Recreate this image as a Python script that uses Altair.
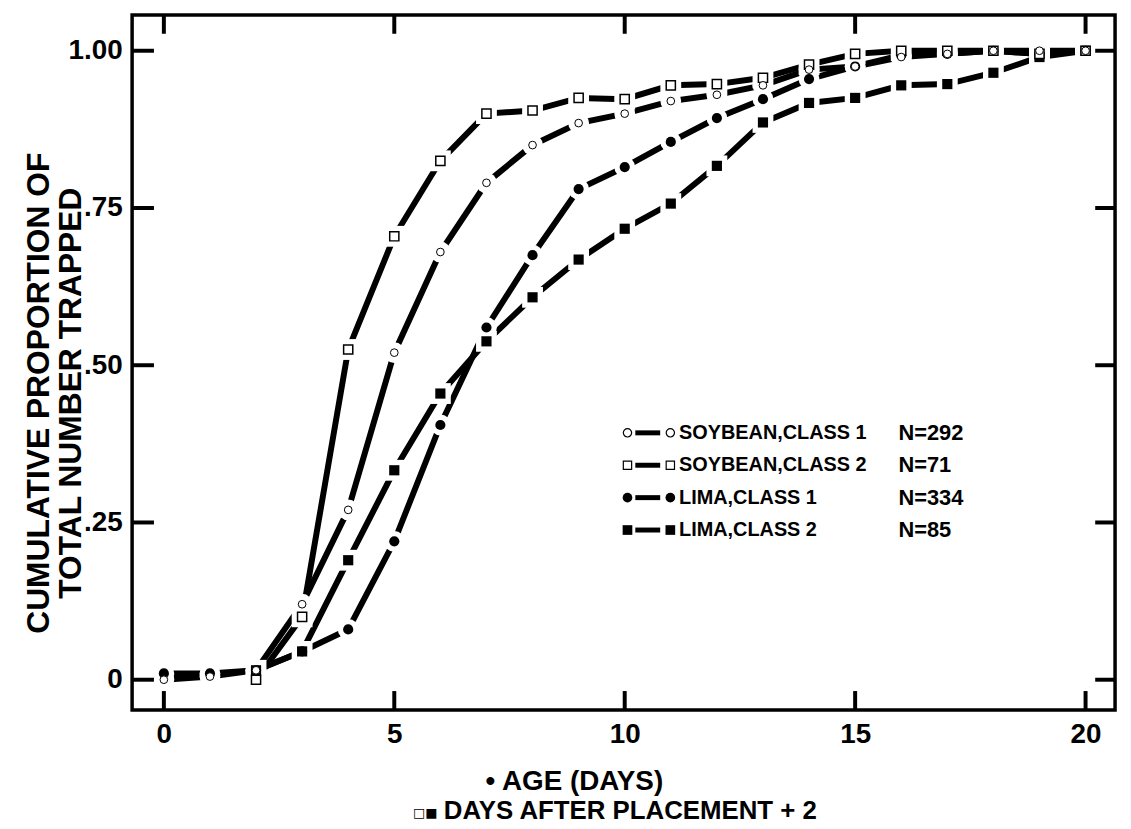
import altair as alt
import pandas as pd

# ---------------- data ----------------
days_age = list(range(0, 21))          # age in days (class 1)
days_place = list(range(2, 21))        # days after placement + 2 (class 2)

soy1 = [0.0, 0.005, 0.015, 0.12, 0.27, 0.52, 0.68, 0.79, 0.85, 0.885, 0.90,
        0.92, 0.93, 0.945, 0.97, 0.975, 0.99, 0.995, 1.0, 1.0, 1.0]
soy2 = [0.0, 0.10, 0.525, 0.705, 0.825, 0.90, 0.905, 0.925, 0.923, 0.945,
        0.947, 0.957, 0.978, 0.995, 1.0, 1.0, 1.0, 0.995, 1.0]
lima1 = [0.01, 0.01, 0.015, 0.045, 0.08, 0.22, 0.405, 0.56, 0.675, 0.78, 0.815,
         0.855, 0.893, 0.923, 0.955, 0.975, 0.993, 0.995, 1.0, 0.995, 1.0]
lima2 = [0.015, 0.045, 0.19, 0.333, 0.455, 0.538, 0.608, 0.668, 0.717, 0.757,
         0.817, 0.886, 0.917, 0.925, 0.945, 0.947, 0.965, 0.99, 1.0]

series_names = ["SOYBEAN,CLASS 1", "SOYBEAN,CLASS 2", "LIMA,CLASS 1", "LIMA,CLASS 2"]
series_n = ["N=292", "N=71", "N=334", "N=85"]
series_shape = ["circle", "square", "circle", "square"]
series_filled = [False, False, True, True]

x_ticks = [0, 5, 10, 15, 20]
y_ticks = [0, 0.25, 0.5, 0.75, 1.0]

y_title = ["CUMULATIVE PROPORTION OF", "TOTAL NUMBER TRAPPED"]
x_title_1 = "\u2022 AGE (DAYS)"
x_title_2 = "DAYS AFTER PLACEMENT + 2"
x_title_2_sym = "\u25a1\u25a0"

# ---------------- tables ----------------
rows = []
for name, days, vals, shp, fil in zip(series_names, [days_age, days_place, days_age, days_place],
                                      [soy1, soy2, lima1, lima2], series_shape, series_filled):
    for d, v in zip(days, vals):
        rows.append({"series": name, "day": d, "prop": v, "shape": shp, "filled": fil})
df = pd.DataFrame(rows)

leg_df = pd.DataFrame({"series": series_names, "n": series_n, "row": [0, 1, 2, 3],
                       "shape": series_shape, "filled": series_filled})
xt_df = pd.DataFrame({"day": x_ticks})
yt_df = pd.DataFrame({"prop": y_ticks})

# ---------------- styles ----------------
W, H = 990, 700
FONT = "Liberation Sans, Arial, sans-serif"

x_scale = alt.Scale(domain=[-0.689, 20.64], nice=False, zero=False)
y_scale = alt.Scale(domain=[-0.048, 1.057], nice=False, zero=False)

x_axis = alt.Axis(values=x_ticks, title=None, domain=False, ticks=False, grid=False,
                  labelFont=FONT, labelFontSize=28, labelFontWeight="bold",
                  labelColor="black", labelPadding=11)
y_axis = alt.Axis(values=y_ticks, title=None, domain=False, ticks=False, grid=False,
                  labelFont=FONT, labelFontSize=28, labelFontWeight="bold",
                  labelColor="black", labelPadding=10,
                  labelExpr="datum.value == 0 ? '0' : (datum.value == 1 ? '1.00' : replace(format(datum.value, '.2f'), '0.', '.'))")


def X(field):
    return alt.X(f"{field}:Q", scale=x_scale, axis=x_axis)


def Y(field):
    return alt.Y(f"{field}:Q", scale=y_scale, axis=y_axis)


base = alt.Chart(df)

lines = base.mark_line(color="black", strokeWidth=6, strokeCap="butt").encode(
    x=X("day"), y=Y("prop"), detail="series:N", order="day:Q")

halo = base.mark_point(filled=True, color="white", size=440, opacity=1).encode(
    x=X("day"), y=Y("prop"), shape=alt.Shape("shape:N", scale=None))

filled_pts = base.transform_filter("datum.filled").mark_point(
    filled=True, color="black", size=105, opacity=1).encode(
    x=X("day"), y=Y("prop"), shape=alt.Shape("shape:N", scale=None))

open_sq = base.transform_filter("datum.series == 'SOYBEAN,CLASS 2'").mark_point(
    filled=True, fill="white", stroke="black", strokeWidth=1.5, size=85, opacity=1).encode(
    x=X("day"), y=Y("prop"), shape=alt.Shape("shape:N", scale=None))

open_ci = base.transform_filter("datum.series == 'SOYBEAN,CLASS 1'").mark_point(
    filled=True, fill="white", stroke="black", strokeWidth=1.0, size=60, opacity=1).encode(
    x=X("day"), y=Y("prop"), shape=alt.Shape("shape:N", scale=None))

# inward ticks on all four sides
tick_b = alt.Chart(xt_df).mark_rule(color="black", strokeWidth=4).encode(
    x=X("day"), y=alt.value(H), y2=alt.value(H - 19))
tick_t = alt.Chart(xt_df).mark_rule(color="black", strokeWidth=4).encode(
    x=X("day"), y=alt.value(0), y2=alt.value(19))
tick_l = alt.Chart(yt_df).mark_rule(color="black", strokeWidth=4).encode(
    y=Y("prop"), x=alt.value(0), x2=alt.value(22))
tick_r = alt.Chart(yt_df).mark_rule(color="black", strokeWidth=4).encode(
    y=Y("prop"), x=alt.value(W - 20), x2=alt.value(W))

# legend drawn inside the plot
leg = alt.Chart(leg_df).transform_calculate(
    ly="0.3925 - datum.row * 0.0515", lx1="10.06", lx2="10.99",
    lr1="10.23", lr2="10.77", lt="11.18", ln="15.94")
leg_rule = leg.mark_rule(color="black", strokeWidth=5).encode(
    x=X("lr1"), x2="lr2:Q", y=Y("ly"))
leg_f1 = leg.transform_filter("datum.filled").mark_point(
    filled=True, color="black", size=95, opacity=1).encode(
    x=X("lx1"), y=Y("ly"), shape=alt.Shape("shape:N", scale=None))
leg_f2 = leg.transform_filter("datum.filled").mark_point(
    filled=True, color="black", size=95, opacity=1).encode(
    x=X("lx2"), y=Y("ly"), shape=alt.Shape("shape:N", scale=None))
leg_o1 = leg.transform_filter("!datum.filled").mark_point(
    filled=True, fill="white", stroke="black", strokeWidth=1.2, size=70, opacity=1).encode(
    x=X("lx1"), y=Y("ly"), shape=alt.Shape("shape:N", scale=None))
leg_o2 = leg.transform_filter("!datum.filled").mark_point(
    filled=True, fill="white", stroke="black", strokeWidth=1.2, size=70, opacity=1).encode(
    x=X("lx2"), y=Y("ly"), shape=alt.Shape("shape:N", scale=None))
leg_txt = leg.mark_text(align="left", baseline="middle", font=FONT, fontSize=20,
                        fontWeight="bold", color="black").encode(
    x=X("lt"), y=Y("ly"), text="series:N")
leg_n = leg.mark_text(align="left", baseline="middle", font=FONT, fontSize=22,
                      fontWeight="bold", color="black").encode(
    x=X("ln"), y=Y("ly"), text="n:N")

# axis titles as text
yt1 = alt.Chart(pd.DataFrame({"t": [y_title[0]]})).mark_text(
    angle=270, align="center", baseline="middle", font=FONT, fontSize=32,
    fontWeight="bold", color="black").encode(x=alt.value(-94), y=alt.value(381), text="t:N")
yt2 = alt.Chart(pd.DataFrame({"t": [y_title[1]]})).mark_text(
    angle=270, align="center", baseline="middle", font=FONT, fontSize=32,
    fontWeight="bold", color="black").encode(x=alt.value(-61), y=alt.value(381), text="t:N")
xt1 = alt.Chart(pd.DataFrame({"t": [x_title_1]})).mark_text(
    align="left", baseline="middle", font=FONT, fontSize=28,
    fontWeight="bold", color="black").encode(x=alt.value(356), y=alt.value(773), text="t:N")
xt2s = alt.Chart(pd.DataFrame({"t": [x_title_2_sym]})).mark_text(
    align="left", baseline="middle", font="DejaVu Sans", fontSize=13,
    color="black").encode(x=alt.value(283), y=alt.value(804), text="t:N")
xt2 = alt.Chart(pd.DataFrame({"t": [x_title_2]})).mark_text(
    align="left", baseline="middle", font=FONT, fontSize=26,
    fontWeight="bold", color="black").encode(x=alt.value(314), y=alt.value(802), text="t:N")

chart = alt.layer(
    lines, halo, filled_pts, open_sq, open_ci,
    tick_b, tick_t, tick_l, tick_r,
    leg_rule, leg_f1, leg_f2, leg_o1, leg_o2, leg_txt, leg_n,
    yt1, yt2, xt1, xt2s, xt2,
).properties(
    width=W, height=H,
    autosize=alt.AutoSizeParams(type="none"),
    padding={"left": 125, "top": 4, "right": 8, "bottom": 117},
    background="white",
).configure_view(stroke="black", strokeWidth=3.5)

chart.save("out.html", embed_options={"renderer": "svg", "actions": False})
